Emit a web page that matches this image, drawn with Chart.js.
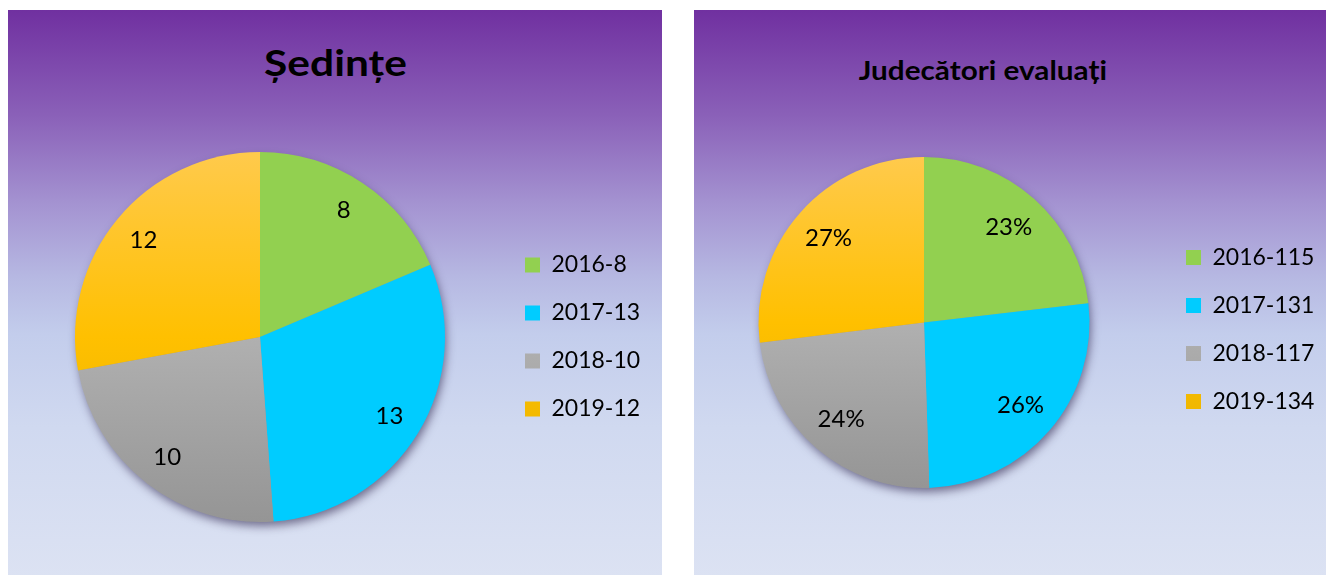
<!DOCTYPE html>
<html>
<head>
<meta charset="utf-8">
<script src="https://cdn.jsdelivr.net/npm/chart.js@4/dist/chart.umd.min.js"></script>
<style>
    body { margin: 0; width: 1326px; height: 575px; background: #fff; position: relative; overflow: hidden; font-family: Lato, sans-serif; }
    .panel { position: absolute; top: 10px; height: 580px;
        background: linear-gradient(to bottom, #7030a0 0%, #8a60b8 18%, #a595d2 34%, #b6b8e2 46%, #c3cdec 56%, #d0d9f0 72%, #dde3f3 100%); }
    .title { position: absolute; font-weight: bold; color: #000; white-space: nowrap; transform-origin: center; }
    canvas { position: absolute; }
</style>
</head>
<body>
<div class="panel" style="left:8px; width:654px;"></div>
<div class="panel" style="left:694px; width:640px;"></div>
<div class="title" id="title1" style="font-size:36px;">Ședințe</div>
<div class="title" id="title2" style="font-size:27px;">Judecători evaluați</div>
<canvas id="sedinteChart" style="left:8px; top:10px;" width="654" height="565"></canvas>
<canvas id="judecatoriChart" style="left:680px; top:10px;" width="646" height="565"></canvas>
<script>
    // chart data
    const years = ['2016', '2017', '2018', '2019'];
    const sedinteValues = [8, 13, 10, 12];
    const judecatoriValues = [115, 131, 117, 134];

    // place titles centred on given point
    function placeTitle(id, cx, cy, sx) {
        const el = document.getElementById(id);
        el.style.transform = 'scaleX(' + sx + ')';
        el.style.left = (cx - el.offsetWidth / 2) + 'px';
        el.style.top = (cy - el.offsetHeight / 2) + 'px';
    }
    placeTitle('title1', 335, 62, 1.18);
    placeTitle('title2', 983, 69, 1.1);

    function sliceColor(ctx) {
        const chart = ctx.chart;
        const area = chart.chartArea;
        const i = ctx.dataIndex;
        const flat = ['#92d050', '#00ccff', '#a6a6a6', '#ffc000'];
        if (!area || i === 1 || i === 0) return flat[i];
        const g = chart.ctx.createLinearGradient(0, area.top, 0, area.bottom);
        if (i === 2) {
            g.addColorStop(0, '#c4c4c4');
            g.addColorStop(0.5, '#b0b0b0');
            g.addColorStop(1, '#959595');
        } else {
            g.addColorStop(0, '#ffca4c');
            g.addColorStop(0.5, '#ffc000');
            g.addColorStop(1, '#e2b000');
        }
        return g;
    }

    // soft shadow under the pie
    const shadowPlugin = {
        id: 'pieShadow',
        beforeDatasetsDraw(chart) {
            const arc = chart.getDatasetMeta(0).data[0];
            if (!arc) return;
            const {x, y, outerRadius} = arc.getProps(['x', 'y', 'outerRadius'], true);
            const c = chart.ctx;
            c.save();
            c.shadowColor = 'rgba(40, 30, 70, 0.6)';
            c.shadowBlur = 10;
            c.shadowOffsetX = 2;
            c.shadowOffsetY = 5;
            c.beginPath();
            c.arc(x, y, outerRadius - 1, 0, Math.PI * 2);
            c.fillStyle = '#999';
            c.fill();
            c.restore();
        }
    };

    // value labels inside the slices
    const labelPlugin = {
        id: 'sliceLabels',
        afterDatasetsDraw(chart, args, opts) {
            const meta = chart.getDatasetMeta(0);
            const data = chart.data.datasets[0].data;
            const total = data.reduce((a, b) => a + b, 0);
            const c = chart.ctx;
            c.save();
            c.font = '24px Lato';
            c.fillStyle = '#000';
            c.textAlign = 'center';
            c.textBaseline = 'middle';
            meta.data.forEach((arc, i) => {
                const p = arc.getProps(['x', 'y', 'startAngle', 'endAngle', 'outerRadius'], true);
                const mid = (p.startAngle + p.endAngle) / 2;
                const r = p.outerRadius * opts.dist;
                const txt = opts.percent ? Math.round(data[i] / total * 100) + '%' : String(data[i]);
                c.fillText(txt, p.x + Math.cos(mid) * r, p.y + Math.sin(mid) * r);
            });
            c.restore();
        }
    };

    function makeChart(canvasId, values, padding, legendWidth, labelOpts, legendShift) {
        const legendTitle = legendShift
            ? { display: true, text: ' ', font: { size: legendShift * 2 - 4, lineHeight: 1 }, padding: 2 }
            : { display: false };
        return new Chart(document.getElementById(canvasId), {
            type: 'pie',
            data: {
                labels: years.map((y, i) => y + '-' + values[i]),
                datasets: [{
                    data: values,
                    backgroundColor: sliceColor,
                    borderWidth: 0
                }]
            },
            options: {
                responsive: false,
                animation: false,
                layout: { padding: padding },
                plugins: {
                    tooltip: { enabled: false },
                    sliceLabels: labelOpts,
                    legend: {
                        position: 'right',
                        title: legendTitle,
                        labels: {
                            boxWidth: 15,
                            boxHeight: 15,
                            padding: 25,
                            color: '#000',
                            font: { family: 'Lato', size: 23 }
                        }
                    }
                }
            },
            plugins: [shadowPlugin, labelPlugin, {
                id: 'legendWidth',
                beforeInit(chart) {
                    const originalFit = chart.legend.fit;
                    chart.legend.fit = function fit() {
                        originalFit.bind(chart.legend)();
                        this.width = legendWidth;
                    };
                }
            }]
        });
    }

    makeChart('sedinteChart', sedinteValues, { left: 12, top: 142, bottom: 53, right: 0 }, 162, { dist: 0.82, percent: false }, 0);
    makeChart('judecatoriChart', judecatoriValues, { left: 7, top: 147, bottom: 87, right: 0 }, 165, { dist: 0.77, percent: true }, 7);
</script>
</body>
</html>
